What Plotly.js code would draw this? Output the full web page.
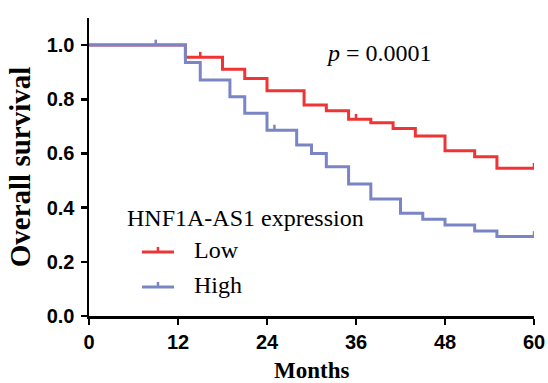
<!DOCTYPE html>
<html>
<head>
<meta charset="utf-8">
<script src="https://cdn.plot.ly/plotly-3.0.1.min.js"></script>
<style>html,body{margin:0;padding:0;background:#fff;}#chart{width:548px;height:383px;}</style>
</head>
<body>
<div id="chart"></div>
<script>
// Kaplan-Meier step data
var lowTimes = [0, 13, 18, 21, 24, 29, 32, 35, 38, 41, 44, 48, 52, 55, 60];
var lowSurv  = [1.0, 0.955, 0.911, 0.877, 0.831, 0.779, 0.758, 0.726, 0.713, 0.692, 0.664, 0.610, 0.588, 0.545, 0.545];
var lowCensorTimes = [15, 36, 60];
var lowCensorSurv  = [0.955, 0.726, 0.545];

var highTimes = [0, 13, 15, 19, 21, 24, 28, 30, 32, 35, 38, 42, 45, 48, 52, 55, 60];
var highSurv  = [1.0, 0.936, 0.871, 0.809, 0.748, 0.686, 0.631, 0.600, 0.551, 0.487, 0.432, 0.379, 0.357, 0.336, 0.314, 0.293, 0.293];
var highCensorTimes = [9, 25, 60];
var highCensorSurv  = [1.0, 0.686, 0.293];

var xTicks = [0, 12, 24, 36, 48, 60];
var yTicks = [0.0, 0.2, 0.4, 0.6, 0.8, 1.0];
var yTickText = ['0.0', '0.2', '0.4', '0.6', '0.8', '1.0'];
var groupNames = ['Low', 'High'];
var legendTitle = 'HNF1A-AS1 expression';
var pText = '<i>p</i> = 0.0001';
var xTitle = 'Months';
var yTitle = 'Overall survival';

var RED = '#ee3434';
var BLUE = '#7a85c6';
var COLORS = [RED, BLUE];
var TICKUP = 0.02;

function censorXY(ts, ss) {
  var x = [], y = [];
  for (var i = 0; i < ts.length; i++) {
    x.push(ts[i], ts[i], null);
    y.push(ss[i], ss[i] + TICKUP, null);
  }
  return {x: x, y: y};
}
var lc = censorXY(lowCensorTimes, lowCensorSurv);
var hc = censorXY(highCensorTimes, highCensorSurv);

var serif = 'Times New Roman, Liberation Serif, serif';
var sans = 'Arial, Liberation Sans, sans-serif';

var traces = [
  {x: lowTimes, y: lowSurv, mode: 'lines', line: {shape: 'hv', color: RED, width: 3},
   name: groupNames[0]},
  {x: highTimes, y: highSurv, mode: 'lines', line: {shape: 'hv', color: BLUE, width: 3},
   name: groupNames[1]},
  {x: lc.x, y: lc.y, mode: 'lines', line: {color: RED, width: 2.5}, hoverinfo: 'skip'},
  {x: hc.x, y: hc.y, mode: 'lines', line: {color: BLUE, width: 2.5}, hoverinfo: 'skip'}
];

// Custom legend (swatch with censor tick + label), positioned in paper units
var legX0 = 0.119, legX1 = 0.191, legXc = 0.155, legTick = 0.017;
var legY = [0.2148, 0.0973];
var legLabelX = 0.2315;
var shapes = [], annotations = [];
for (var i = 0; i < groupNames.length; i++) {
  shapes.push({type: 'line', xref: 'paper', yref: 'paper', x0: legX0, x1: legX1, y0: legY[i], y1: legY[i],
               line: {color: COLORS[i], width: 3}});
  shapes.push({type: 'line', xref: 'paper', yref: 'paper', x0: legXc, x1: legXc, y0: legY[i], y1: legY[i] + legTick,
               line: {color: COLORS[i], width: 2.5}});
  annotations.push({xref: 'paper', yref: 'paper', x: legLabelX, y: legY[i] + 0.007, xanchor: 'left', yanchor: 'middle',
                    text: groupNames[i], showarrow: false, font: {family: serif, size: 24, color: '#000'}});
}
annotations.push({xref: 'paper', yref: 'paper', x: 0.652, y: 0.883, xanchor: 'center', yanchor: 'middle',
                  text: pText, showarrow: false, font: {family: serif, size: 24, color: '#000'}});
annotations.push({xref: 'paper', yref: 'paper', x: 0.081, y: 0.329, xanchor: 'left', yanchor: 'middle',
                  text: legendTitle, showarrow: false, font: {family: serif, size: 24, color: '#000'}});
// x-axis title placed at the bottom edge like the reference
annotations.push({xref: 'paper', yref: 'paper', x: 0.5, y: -0.184, xanchor: 'center', yanchor: 'middle',
                  text: '<b>' + xTitle + '</b>', showarrow: false, font: {family: serif, size: 23, color: '#000'}});

var layout = {
  width: 548, height: 383,
  margin: {l: 89, r: 14, t: 18, b: 67},
  paper_bgcolor: '#fff', plot_bgcolor: '#fff',
  showlegend: false,
  xaxis: {
    range: [0, 60], tickvals: xTicks, ticktext: xTicks.map(String),
    showgrid: false, zeroline: false, showline: true, linecolor: '#000', linewidth: 2.5,
    ticks: 'outside', ticklen: 6, tickwidth: 2.5, tickcolor: '#000',
    tickfont: {family: sans, size: 20, color: '#000', weight: 'bold'}
  },
  yaxis: {
    range: [0, 1.1], tickvals: yTicks, ticktext: yTickText,
    showgrid: false, zeroline: false, showline: true, linecolor: '#000', linewidth: 2.5,
    ticks: 'outside', ticklen: 6, tickwidth: 2.5, tickcolor: '#000',
    ticklabelstandoff: 2,
    tickfont: {family: sans, size: 20, color: '#000', weight: 'bold'},
    title: {text: yTitle, font: {family: serif, size: 29, color: '#000', weight: 'bold'}, standoff: 8}
  },
  shapes: shapes,
  annotations: annotations
};

Plotly.newPlot('chart', traces, layout, {displayModeBar: false, staticPlot: true});
</script>
</body>
</html>
